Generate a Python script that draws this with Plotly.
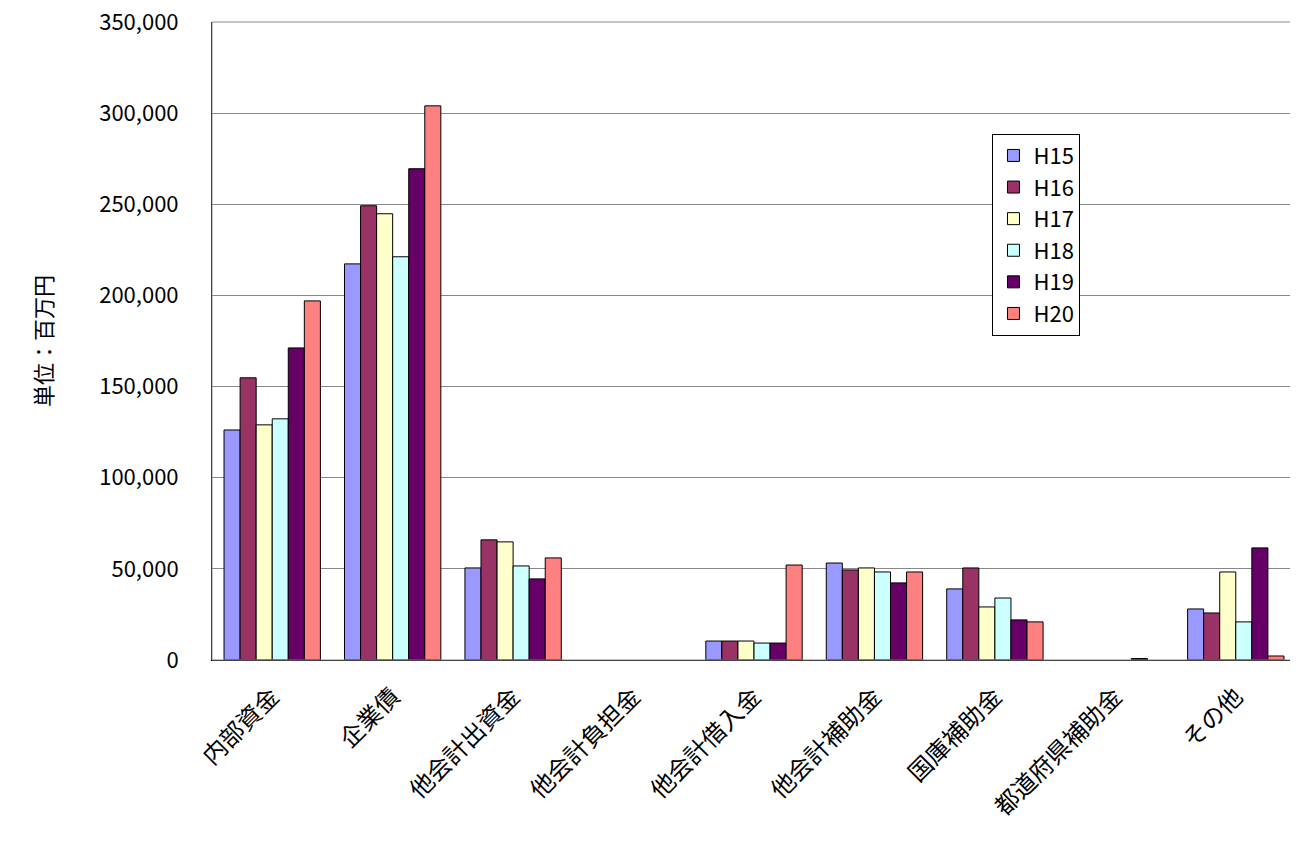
import plotly.graph_objects as go

categories = ["内部資金","企業債","他会計出資金","他会計負担金","他会計借入金","他会計補助金","国庫補助金","都道府県補助金","その他"]
series = ["H15","H16","H17","H18","H19","H20"]
H15 = [126200,217300,50500,0,10400,53200,39000,0,28000]
H16 = [154800,249200,65900,0,10400,49400,50500,0,25800]
H17 = [129000,244800,64800,0,10400,50500,29100,0,48300]
H18 = [132300,221200,51600,0,9300,48300,34000,0,20900]
H19 = [171200,269500,44500,0,9300,42300,22000,800,61500]
H20 = [197000,304000,56000,0,52100,48300,20900,0,2200]
colors = ["#9999FF","#993366","#FFFFCC","#CCFFFF","#660066","#FF8080"]
values = [H15,H16,H17,H18,H19,H20]

font = "Noto Sans CJK JP"
fig = go.Figure()
for name, vals, c in zip(series, values, colors):
    fig.add_bar(x=categories, y=[v if v else None for v in vals], name=name,
                marker=dict(color=c, line=dict(color="black", width=1)))

fig.update_layout(
    width=1298, height=865, barmode="group", bargap=0.2, bargroupgap=0,
    plot_bgcolor="white", paper_bgcolor="white",
    margin=dict(l=204, r=10, t=14, b=213, autoexpand=False),
    font=dict(family=font, size=20, color="black"),
    legend=dict(x=0.72, y=0.825, xanchor="left", yanchor="top", bordercolor="black", borderwidth=1,
                font=dict(size=22), tracegroupgap=0, itemwidth=30),
    yaxis=dict(range=[0,350000], dtick=50000, tickformat=",", showgrid=True, gridcolor="#888888",
               showline=True, linecolor="black", ticks="outside", ticklen=28, tickcolor="rgba(0,0,0,0)",
               tickfont=dict(size=22), automargin=False, ticklabeloverflow="allow",
               title=dict(text="単位：百万円", font=dict(size=22), standoff=40)),
    xaxis=dict(showline=True, linecolor="black", tickangle=-45, tickfont=dict(size=24),
               ticks="outside", ticklen=12, tickcolor="rgba(0,0,0,0)", automargin=False),
)
fig.add_shape(type="rect", xref="paper", yref="paper", x0=0, y0=0, x1=1, y1=1, line=dict(color="#888888", width=1))
fig.write_html("out.html")
